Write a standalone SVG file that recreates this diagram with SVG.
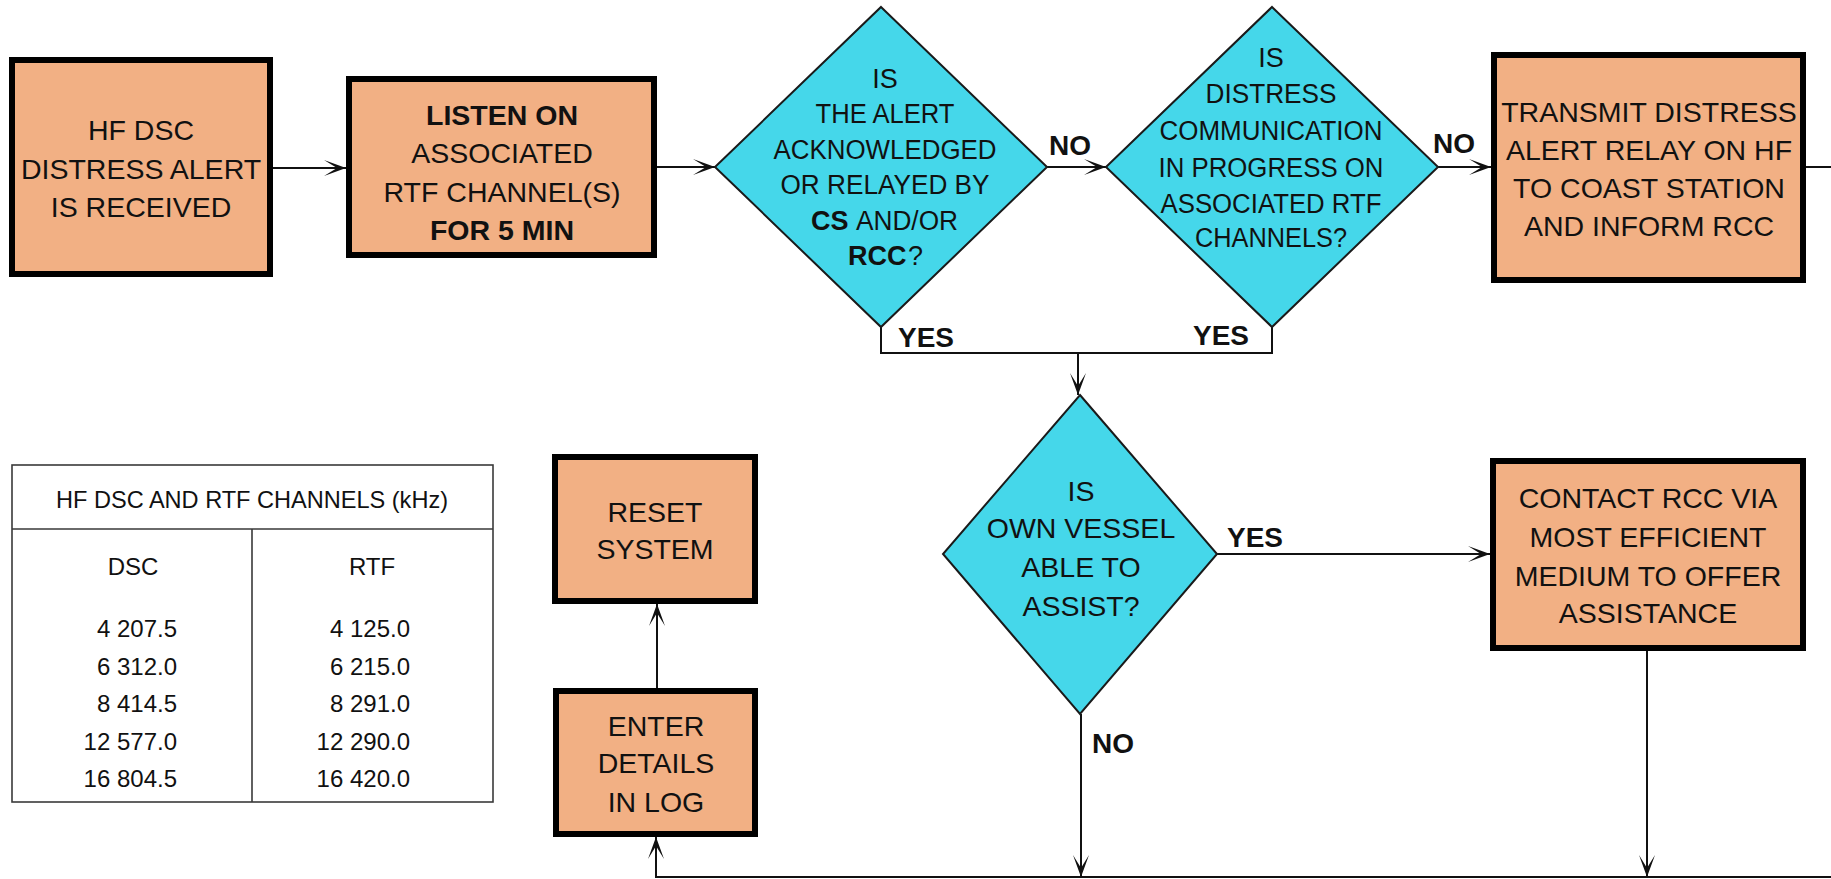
<svg xmlns="http://www.w3.org/2000/svg" width="1831" height="879" viewBox="0 0 1831 879">
<style>
text{font-family:"Liberation Sans",Arial,sans-serif;fill:#111;text-anchor:middle}
.bx{fill:#F2B084;stroke:#000;stroke-width:6}
.dm{fill:#45D7EA;stroke:#1a1a1a;stroke-width:2}
.t{font-size:28.5px}
.td{font-size:27px}
.s{text-anchor:start}
.b{font-weight:bold}
.lb{font-size:28px;font-weight:bold;text-anchor:start}
.tb{font-size:24px}
.num{font-size:24px;text-anchor:end}
.c{fill:none;stroke:#111;stroke-width:2}
.a{marker-end:url(#ah)}
.tl{fill:none;stroke:#3a3a3a;stroke-width:1.6}
</style>
<defs>
<marker id="ah" markerUnits="userSpaceOnUse" orient="auto" viewBox="-24 -10 26 20" markerWidth="26" markerHeight="20" refX="0" refY="0">
<path d="M0,0 L-22,-8 L-9,0 L-22,8 Z" fill="#111"/>
</marker>
</defs>

<g id="connectors">
<path class="c a" d="M273,168 H346"/>
<path class="c a" d="M657,167 H715"/>
<path class="c a" d="M1047,167 H1106"/>
<path class="c a" d="M1438,167 H1491"/>
<path class="c" d="M1806,167 H1831"/>
<path class="c" d="M881,327 V353 H1272 V327"/>
<path class="c a" d="M1078,353 V395"/>
<path class="c a" d="M1217,554 H1490"/>
<path class="c a" d="M1081,714 V877"/>
<path class="c a" d="M1647,651 V877"/>
<path class="c a" d="M1831,877 H656 V837"/>
<path class="c a" d="M657,688 V604"/>
<text class="lb" x="1049" y="155">NO</text>
<text class="lb" x="1433" y="153">NO</text>
<text class="lb" x="898" y="347">YES</text>
<text class="lb" x="1193" y="345">YES</text>
<text class="lb" x="1227" y="547">YES</text>
<text class="lb" x="1092" y="753">NO</text>
</g>

<g id="n1">
<rect class="bx" x="12" y="60" width="258" height="214"/>
<text class="t" x="141" y="140">HF DSC</text>
<text class="t" x="141" y="179">DISTRESS ALERT</text>
<text class="t" x="141" y="217">IS RECEIVED</text>
</g>

<g id="n2">
<rect class="bx" x="349" y="79" width="305" height="176"/>
<text class="t b" x="502" y="125">LISTEN ON</text>
<text class="t" x="502" y="163">ASSOCIATED</text>
<text class="t" x="502" y="202">RTF CHANNEL(S)</text>
<text class="t b" x="502" y="240">FOR 5 MIN</text>
</g>

<g id="d1">
<polygon class="dm" points="881,7 1047,167 881,327 715,167"/>
<text class="td" x="885" y="88">IS</text>
<text class="td" x="885" y="123" textLength="139" lengthAdjust="spacingAndGlyphs">THE ALERT</text>
<text class="td" x="885" y="158.5" textLength="223" lengthAdjust="spacingAndGlyphs">ACKNOWLEDGED</text>
<text class="td" x="885" y="194" textLength="209" lengthAdjust="spacingAndGlyphs">OR RELAYED BY</text>
<text class="td b s" x="811" y="229.5">CS</text>
<text class="td s" x="856" y="229.5" textLength="102" lengthAdjust="spacingAndGlyphs">AND/OR</text>
<text class="td b s" x="848" y="265">RCC</text>
<text class="td s" x="908" y="265">?</text>
</g>

<g id="d2">
<polygon class="dm" points="1272,7 1438,167 1272,327 1106,167"/>
<text class="td" x="1271" y="67">IS</text>
<text class="td" x="1271" y="103" textLength="131" lengthAdjust="spacingAndGlyphs">DISTRESS</text>
<text class="td" x="1271" y="140" textLength="223" lengthAdjust="spacingAndGlyphs">COMMUNICATION</text>
<text class="td" x="1271" y="177" textLength="225" lengthAdjust="spacingAndGlyphs">IN PROGRESS ON</text>
<text class="td" x="1271" y="213" textLength="221" lengthAdjust="spacingAndGlyphs">ASSOCIATED RTF</text>
<text class="td" x="1271" y="247" textLength="152" lengthAdjust="spacingAndGlyphs">CHANNELS?</text>
</g>

<g id="n3">
<rect class="bx" x="1494" y="55" width="309" height="225"/>
<text class="t" x="1649" y="122">TRANSMIT DISTRESS</text>
<text class="t" x="1649" y="160">ALERT RELAY ON HF</text>
<text class="t" x="1649" y="198">TO COAST STATION</text>
<text class="t" x="1649" y="236">AND INFORM RCC</text>
</g>

<g id="d3">
<polygon class="dm" points="1080,395 1217,554 1080,714 943,554"/>
<text class="t" x="1081" y="501">IS</text>
<text class="t" x="1081" y="538">OWN VESSEL</text>
<text class="t" x="1081" y="577">ABLE TO</text>
<text class="t" x="1081" y="616">ASSIST?</text>
</g>

<g id="n4">
<rect class="bx" x="1493" y="461" width="310" height="187"/>
<text class="t" x="1648" y="508">CONTACT RCC VIA</text>
<text class="t" x="1648" y="547">MOST EFFICIENT</text>
<text class="t" x="1648" y="586">MEDIUM TO OFFER</text>
<text class="t" x="1648" y="623">ASSISTANCE</text>
</g>

<g id="n5">
<rect class="bx" x="555" y="457" width="200" height="144"/>
<text class="t" x="655" y="522">RESET</text>
<text class="t" x="655" y="559">SYSTEM</text>
</g>

<g id="n6">
<rect class="bx" x="556" y="691" width="199" height="143"/>
<text class="t" x="656" y="736">ENTER</text>
<text class="t" x="656" y="773">DETAILS</text>
<text class="t" x="656" y="812">IN LOG</text>
</g>

<g id="table">
<rect class="tl" x="12" y="465" width="481" height="337" fill="#fff"/>
<path class="tl" d="M12,529 H493 M252,529 V802"/>
<text class="tb" x="252" y="508" textLength="392" lengthAdjust="spacingAndGlyphs">HF DSC AND RTF CHANNELS (kHz)</text>
<text class="tb" x="133" y="575">DSC</text>
<text class="tb" x="372" y="575">RTF</text>
<text class="num" x="177" y="637">4 207.5</text>
<text class="num" x="177" y="674.5">6 312.0</text>
<text class="num" x="177" y="712">8 414.5</text>
<text class="num" x="177" y="749.5">12 577.0</text>
<text class="num" x="177" y="787">16 804.5</text>
<text class="num" x="410" y="637">4 125.0</text>
<text class="num" x="410" y="674.5">6 215.0</text>
<text class="num" x="410" y="712">8 291.0</text>
<text class="num" x="410" y="749.5">12 290.0</text>
<text class="num" x="410" y="787">16 420.0</text>
</g>
</svg>
